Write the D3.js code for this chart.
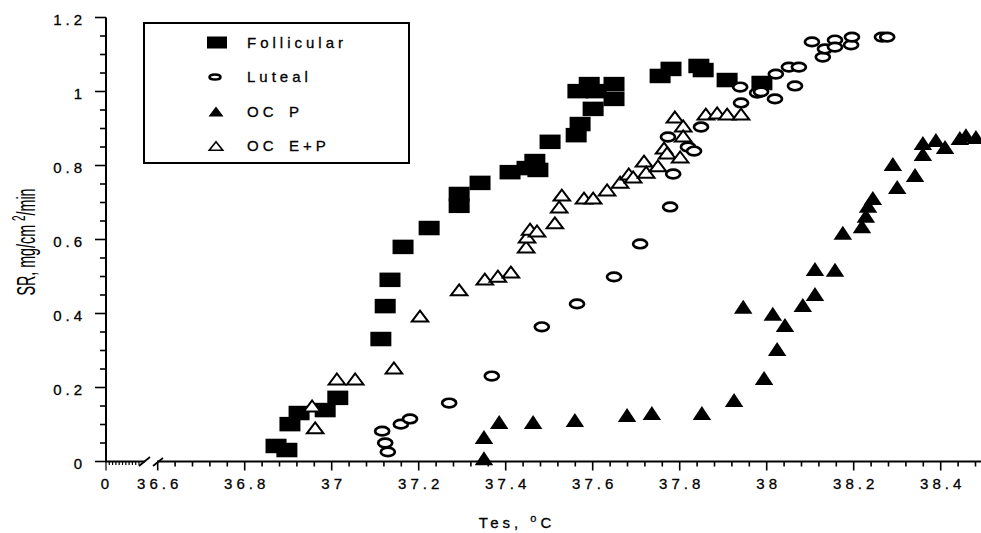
<!DOCTYPE html>
<html>
<head>
<meta charset="utf-8">
<script src="https://cdn.jsdelivr.net/npm/d3@7"></script>
<style>
  body { margin: 0; background: #fff; }
  svg { display: block; font-family: "Liberation Sans", Arial, Helvetica, sans-serif; }
</style>
</head>
<body>
<div id="chart"></div>
<script>
// data: [Tes (°C), SR (mg/cm2/min)]
const follicular = [
  [36.872, 0.042], [36.897, 0.031], [36.904, 0.101], [36.925, 0.131], [36.985, 0.139],
  [37.014, 0.172], [37.113, 0.331], [37.123, 0.420], [37.134, 0.491], [37.164, 0.580],
  [37.224, 0.631], [37.293, 0.723], [37.293, 0.691], [37.341, 0.753], [37.410, 0.782],
  [37.449, 0.793], [37.467, 0.812], [37.474, 0.788], [37.502, 0.864], [37.562, 0.882],
  [37.571, 0.912], [37.601, 0.953], [37.566, 1.001], [37.608, 1.001], [37.592, 1.020],
  [37.649, 1.020], [37.649, 0.980], [37.755, 1.042], [37.780, 1.061], [37.844, 1.069],
  [37.854, 1.058], [37.909, 1.031], [37.989, 1.023]
];
const luteal = [
  [37.116, 0.082], [37.123, 0.050], [37.129, 0.026], [37.159, 0.101], [37.180, 0.115],
  [37.270, 0.158], [37.368, 0.231], [37.483, 0.364], [37.564, 0.426], [37.649, 0.499],
  [37.709, 0.588], [37.778, 0.688], [37.785, 0.777], [37.773, 0.877], [37.819, 0.850],
  [37.833, 0.839], [37.849, 0.904], [37.941, 0.969], [37.939, 1.012], [37.978, 0.996],
  [37.987, 0.999], [38.019, 0.980], [38.021, 1.047], [38.051, 1.066], [38.074, 1.066],
  [38.065, 1.015], [38.104, 1.134], [38.129, 1.093], [38.134, 1.115], [38.157, 1.139],
  [38.157, 1.120], [38.194, 1.126], [38.196, 1.147], [38.265, 1.147], [38.277, 1.147]
];
const ocP = [
  [37.350, 0.009], [37.350, 0.066], [37.385, 0.107], [37.463, 0.107], [37.559, 0.112],
  [37.679, 0.126], [37.736, 0.131], [37.851, 0.131], [37.925, 0.166], [37.946, 0.418],
  [37.994, 0.226], [38.014, 0.399], [38.024, 0.304], [38.042, 0.369], [38.083, 0.423],
  [38.111, 0.453], [38.111, 0.520], [38.157, 0.518], [38.175, 0.618], [38.219, 0.636],
  [38.228, 0.664], [38.233, 0.691], [38.244, 0.712], [38.290, 0.804], [38.300, 0.742],
  [38.341, 0.774], [38.359, 0.831], [38.359, 0.861], [38.389, 0.869], [38.410, 0.850],
  [38.444, 0.874], [38.458, 0.882], [38.481, 0.877]
];
const ocEP = [
  [36.955, 0.150], [36.962, 0.091], [37.012, 0.223], [37.054, 0.223], [37.143, 0.253],
  [37.203, 0.393], [37.293, 0.464], [37.352, 0.493], [37.382, 0.501], [37.412, 0.512],
  [37.447, 0.580], [37.449, 0.607], [37.456, 0.628], [37.472, 0.623], [37.513, 0.645],
  [37.523, 0.688], [37.529, 0.720], [37.580, 0.712], [37.601, 0.712], [37.633, 0.734],
  [37.663, 0.755], [37.683, 0.777], [37.693, 0.769], [37.718, 0.812], [37.723, 0.782],
  [37.750, 0.799], [37.764, 0.847], [37.771, 0.834], [37.801, 0.823], [37.789, 0.931],
  [37.808, 0.907], [37.808, 0.880], [37.860, 0.939], [37.886, 0.942], [37.909, 0.939],
  [37.941, 0.939]
];

const legendLabels = ["Follicular", "Luteal", "OC\u2002P", "OC\u2002E+P"];
const xTickValues = [36.6, 36.8, 37, 37.2, 37.4, 37.6, 37.8, 38, 38.2, 38.4];
const yTickValues = [0, 0.2, 0.4, 0.6, 0.8, 1, 1.2];

const W = 981, H = 533;

//scales, x axis has a break after 0
const x = d3.scaleLinear().domain([36.6, 38.5]).range([157.7, 984.2]);
const y = d3.scaleLinear().domain([0, 1.2]).range([461.5, 17.5]);
const x0 = 106; // where "0" sits (y axis)

const svg = d3.select("#chart")
  .append("svg")
  .attr("width", W)
  .attr("height", H);

const labelStyle = sel => sel
  .style("font-size", "15px")
  .style("letter-spacing", "4px")
  .attr("fill", "#000")
  .attr("stroke", "#000")
  .attr("stroke-width", 0.3);

//y axis line and ticks
svg.append("line")
  .attr("x1", x0).attr("x2", x0)
  .attr("y1", y(1.2)).attr("y2", y(0))
  .attr("stroke", "#000").attr("stroke-width", 2);

svg.append("g")
  .selectAll("line")
  .data(d3.range(0, 1.2001, 0.05))
  .join("line")
  .attr("x1", (d, i) => i % 4 === 0 ? x0 - 11 : x0 - 6)
  .attr("x2", x0)
  .attr("y1", d => y(d)).attr("y2", d => y(d))
  .attr("stroke", "#000").attr("stroke-width", 1.6);

svg.append("g")
  .selectAll("text")
  .data(yTickValues)
  .join("text")
  .attr("x", 86)
  .attr("y", d => y(d) + 7)
  .attr("text-anchor", "end")
  .text(d => d)
  .call(labelStyle);

//x axis: short segment at 0, then the break, then the real range
svg.append("line")
  .attr("x1", x0 - 1).attr("x2", 145)
  .attr("y1", y(0)).attr("y2", y(0))
  .attr("stroke", "#000").attr("stroke-width", 2);

svg.append("line")
  .attr("x1", 157).attr("x2", W)
  .attr("y1", y(0)).attr("y2", y(0))
  .attr("stroke", "#000").attr("stroke-width", 2);

//break marks
svg.append("g")
  .selectAll("line")
  .data([[139, 466, 150, 457], [153, 466, 163, 458]])
  .join("line")
  .attr("x1", d => d[0]).attr("y1", d => d[1])
  .attr("x2", d => d[2]).attr("y2", d => d[3])
  .attr("stroke", "#000").attr("stroke-width", 1.8);

//tiny ticks in the 0 segment
const xs = d3.scaleLinear().domain([0, 10]).range([x0, 139]);
svg.append("g")
  .selectAll("line")
  .data(d3.range(0, 11))
  .join("line")
  .attr("x1", d => xs(d)).attr("x2", d => xs(d))
  .attr("y1", y(0))
  .attr("y2", d => d === 0 ? y(0) + 9 : y(0) + 3.5)
  .attr("stroke", "#000").attr("stroke-width", 1.2);

//ticks on the main part
svg.append("g")
  .selectAll("line")
  .data(d3.range(0, 48).map(i => 36.6 + i * 0.04))
  .join("line")
  .attr("x1", d => x(d)).attr("x2", d => x(d))
  .attr("y1", y(0))
  .attr("y2", (d, i) => i % 5 === 0 ? y(0) + 9 : y(0) + 5)
  .attr("stroke", "#000").attr("stroke-width", 1.6);

svg.append("g")
  .selectAll("text")
  .data([0].concat(xTickValues))
  .join("text")
  .attr("x", d => (d === 0 ? x0 - 1 : x(d)) + 2)
  .attr("y", 489)
  .attr("text-anchor", "middle")
  .text(d => d)
  .call(labelStyle);

//axis titles
const xTitle = svg.append("text")
  .attr("x", 517)
  .attr("y", 528)
  .attr("text-anchor", "middle")
  .call(labelStyle);
xTitle.append("tspan").text("Tes, ");
xTitle.append("tspan").attr("dy", -6).style("font-size", "11px").text("o");
xTitle.append("tspan").attr("dy", 6).text("C");

const yTitle = svg.append("text")
  .attr("transform", "translate(35,242) rotate(-90) scale(0.55,1)")
  .attr("text-anchor", "middle")
  .style("font-size", "26px")
  .attr("fill", "#000");
yTitle.append("tspan").text("SR, mg/cm ");
yTitle.append("tspan").attr("dy", -10).style("font-size", "18px").text("2");
yTitle.append("tspan").attr("dy", 10).text("/min");

//marker shapes
const tri = (w, h) => `M0,${-h / 2}L${w / 2},${h / 2}L${-w / 2},${h / 2}Z`;

const marks = svg.append("g");

//follicular squares
marks.append("g")
  .selectAll("rect")
  .data(follicular)
  .join("rect")
  .attr("x", d => x(d[0]) - 10.5)
  .attr("y", d => y(d[1]) - 7.25)
  .attr("width", 21)
  .attr("height", 14.5)
  .attr("fill", "#000");

//OC P filled triangles
marks.append("g")
  .selectAll("path")
  .data(ocP)
  .join("path")
  .attr("transform", d => `translate(${x(d[0])},${y(d[1])})`)
  .attr("d", tri(18.5, 14))
  .attr("fill", "#000");

//OC E+P open triangles
marks.append("g")
  .selectAll("path")
  .data(ocEP)
  .join("path")
  .attr("transform", d => `translate(${x(d[0])},${y(d[1])})`)
  .attr("d", tri(16.5, 11))
  .attr("fill", "#fff")
  .attr("stroke", "#000")
  .attr("stroke-width", 2)
  .attr("stroke-linejoin", "miter");

//luteal open circles
marks.append("g")
  .selectAll("ellipse")
  .data(luteal)
  .join("ellipse")
  .attr("cx", d => x(d[0]))
  .attr("cy", d => y(d[1]))
  .attr("rx", 7)
  .attr("ry", 4.3)
  .attr("fill", "#fff")
  .attr("stroke", "#000")
  .attr("stroke-width", 2.7);

//legend
const legend = svg.append("g");

legend.append("rect")
  .attr("x", 144).attr("y", 23)
  .attr("width", 265).attr("height", 140)
  .attr("fill", "#fff")
  .attr("stroke", "#000")
  .attr("stroke-width", 2);

const rowY = i => 42.5 + i * 34.5;

legend.append("rect")
  .attr("x", 207).attr("y", rowY(0) - 6)
  .attr("width", 20).attr("height", 12)
  .attr("fill", "#000");
legend.append("ellipse")
  .attr("cx", 215).attr("cy", rowY(1))
  .attr("rx", 5.5).attr("ry", 2.6)
  .attr("fill", "#fff").attr("stroke", "#000").attr("stroke-width", 2.5);
legend.append("path")
  .attr("transform", `translate(216,${rowY(2)})`)
  .attr("d", tri(15, 10))
  .attr("fill", "#000");
legend.append("path")
  .attr("transform", `translate(216,${rowY(3)})`)
  .attr("d", tri(13.5, 8.5))
  .attr("fill", "#fff").attr("stroke", "#000").attr("stroke-width", 1.6);

legend.selectAll(".legend-label")
  .data(legendLabels)
  .join("text")
  .attr("class", "legend-label")
  .attr("x", 247)
  .attr("y", (d, i) => rowY(i) + 5)
  .text(d => d)
  .call(labelStyle);
</script>
</body>
</html>
